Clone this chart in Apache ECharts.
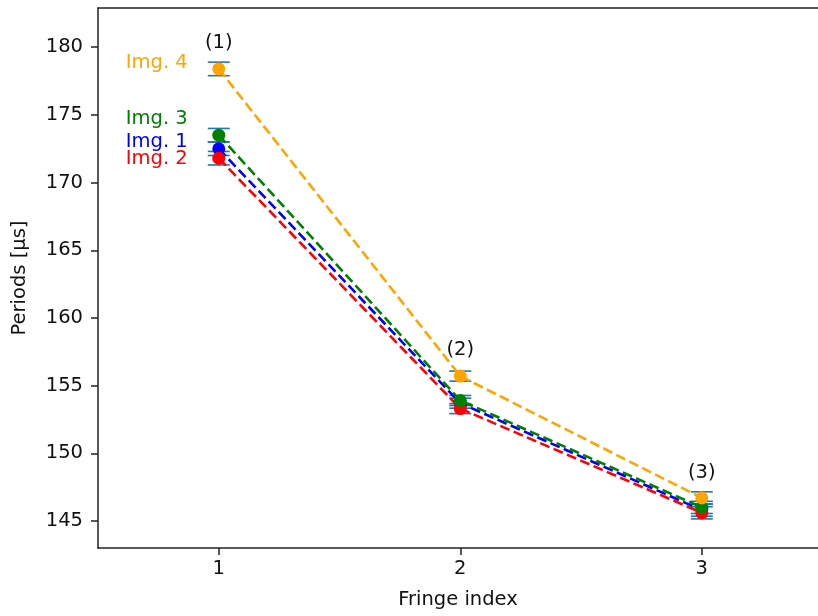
<!DOCTYPE html>
<html>
<head>
<meta charset="utf-8">
<script src="https://cdn.jsdelivr.net/npm/echarts@6/dist/echarts.min.js"></script>
<style>html,body{margin:0;padding:0;background:#fff}#c{width:818px;height:616px}</style>
</head>
<body>
<div id="c"></div>
<script>
// ---- data ----
const fringeIdx = [1, 2, 3];
const img1 = [172.5, 153.7, 145.8];
const img2 = [171.8, 153.3, 145.6];
const img3 = [173.5, 153.9, 146.0];
const img4 = [178.4, 155.7, 146.7];
const err1 = [0.5, 0.37, 0.45];
const err2 = [0.5, 0.37, 0.45];
const err3 = [0.5, 0.37, 0.45];
const err4 = [0.5, 0.37, 0.45];
const imgNames = ['Img. 1', 'Img. 2', 'Img. 3', 'Img. 4'];
const imgColors = ['blue', 'red', 'green', 'orange'];
const imgLabelX = [0.615, 0.615, 0.615, 0.615];
const imgLabelY = [173.0, 171.73, 174.73, 178.87];
const peakLabels = ['(1)', '(2)', '(3)'];
const peakLabelY = [180.32, 157.62, 148.56];
const yTicks = [145, 150, 155, 160, 165, 170, 175, 180];
const xTicks = [1, 2, 3];

const FONT = 'DejaVu Sans';
const FS = 19.5;
const allY = [img1, img2, img3, img4];
const allE = [err1, err2, err3, err4];

const series = [];
// error bars
allY.forEach((vals, k) => {
  series.push({
    type: 'custom',
    z: 2,
    data: fringeIdx.map((x, i) => [x, vals[i], allE[k][i]]),
    renderItem: function (params, api) {
      const x = api.value(0), y = api.value(1), e = api.value(2);
      const t = api.coord([x, y + e]);
      const b = api.coord([x, y - e]);
      const cw = 11;
      const st = {stroke: '#1f77b4', lineWidth: 1.6};
      return {type: 'group', children: [
        {type: 'line', shape: {x1: t[0], y1: t[1], x2: b[0], y2: b[1]}, style: st},
        {type: 'line', shape: {x1: t[0] - cw, y1: t[1], x2: t[0] + cw, y2: t[1]}, style: st},
        {type: 'line', shape: {x1: b[0] - cw, y1: b[1], x2: b[0] + cw, y2: b[1]}, style: st}
      ]};
    }
  });
});
// lines + markers
allY.forEach((vals, k) => {
  series.push({
    type: 'line',
    z: 3 + k,
    data: fringeIdx.map((x, i) => [x, vals[i]]),
    symbol: 'circle',
    symbolSize: 13,
    showSymbol: true,
    itemStyle: {color: imgColors[k], borderWidth: 0},
    lineStyle: {color: imgColors[k], width: 2.6, type: [10, 4.5]},
    emphasis: {disabled: true}
  });
});
// image labels
series.push({
  type: 'custom',
  z: 10,
  data: imgNames.map((n, k) => [imgLabelX[k], imgLabelY[k], k]),
  renderItem: function (params, api) {
    const p = api.coord([api.value(0), api.value(1)]);
    const k = api.value(2);
    return {type: 'text', x: p[0], y: p[1], style: {text: imgNames[k], fill: imgColors[k], fontSize: FS, fontFamily: FONT, align: 'left', verticalAlign: 'middle'}};
  }
});
// peak labels
series.push({
  type: 'custom',
  z: 10,
  data: fringeIdx.map((x, i) => [x, peakLabelY[i], i]),
  renderItem: function (params, api) {
    const p = api.coord([api.value(0), api.value(1)]);
    const i = api.value(2);
    return {type: 'text', x: p[0], y: p[1], style: {text: peakLabels[i], fill: '#111', fontSize: FS, fontFamily: FONT, align: 'center', verticalAlign: 'middle'}};
  }
});

const chart = echarts.init(document.getElementById('c'), null, {renderer: 'canvas'});
chart.setOption({
  animation: false,
  backgroundColor: '#fff',
  grid: {left: 98, top: 8, bottom: 68, right: 0, show: false, containLabel: false},
  xAxis: [{
    type: 'value', min: 0.5, max: 3.481, position: 'bottom',
    name: 'Fringe index', nameLocation: 'middle', nameGap: 42,
    nameTextStyle: {fontFamily: FONT, fontSize: FS, color: '#111'},
    axisLine: {show: true, lineStyle: {color: '#222', width: 1.5}},
    axisTick: {show: true, inside: false, length: 7, lineStyle: {color: '#222', width: 1.5}, customValues: xTicks},
    axisLabel: {fontFamily: FONT, fontSize: FS, color: '#111', margin: 11, customValues: xTicks},
    splitLine: {show: false}
  }, {
    type: 'value', min: 0.5, max: 3.481, position: 'top',
    axisLine: {show: true, onZero: false, lineStyle: {color: '#222', width: 1.5}},
    axisTick: {show: false}, axisLabel: {show: false}, splitLine: {show: false}
  }],
  yAxis: {
    type: 'value', min: 143.0, max: 182.9,
    name: 'Periods [μs]', nameLocation: 'middle', nameGap: 68, nameRotate: 90,
    nameTextStyle: {fontFamily: FONT, fontSize: FS, color: '#111'},
    axisLine: {show: true, onZero: false, lineStyle: {color: '#222', width: 1.5}},
    axisTick: {show: true, inside: false, length: 7, lineStyle: {color: '#222', width: 1.5}, customValues: yTicks},
    axisLabel: {fontFamily: FONT, fontSize: FS, color: '#111', margin: 15, customValues: yTicks},
    splitLine: {show: false}
  },
  series: series
});
</script>
</body>
</html>
